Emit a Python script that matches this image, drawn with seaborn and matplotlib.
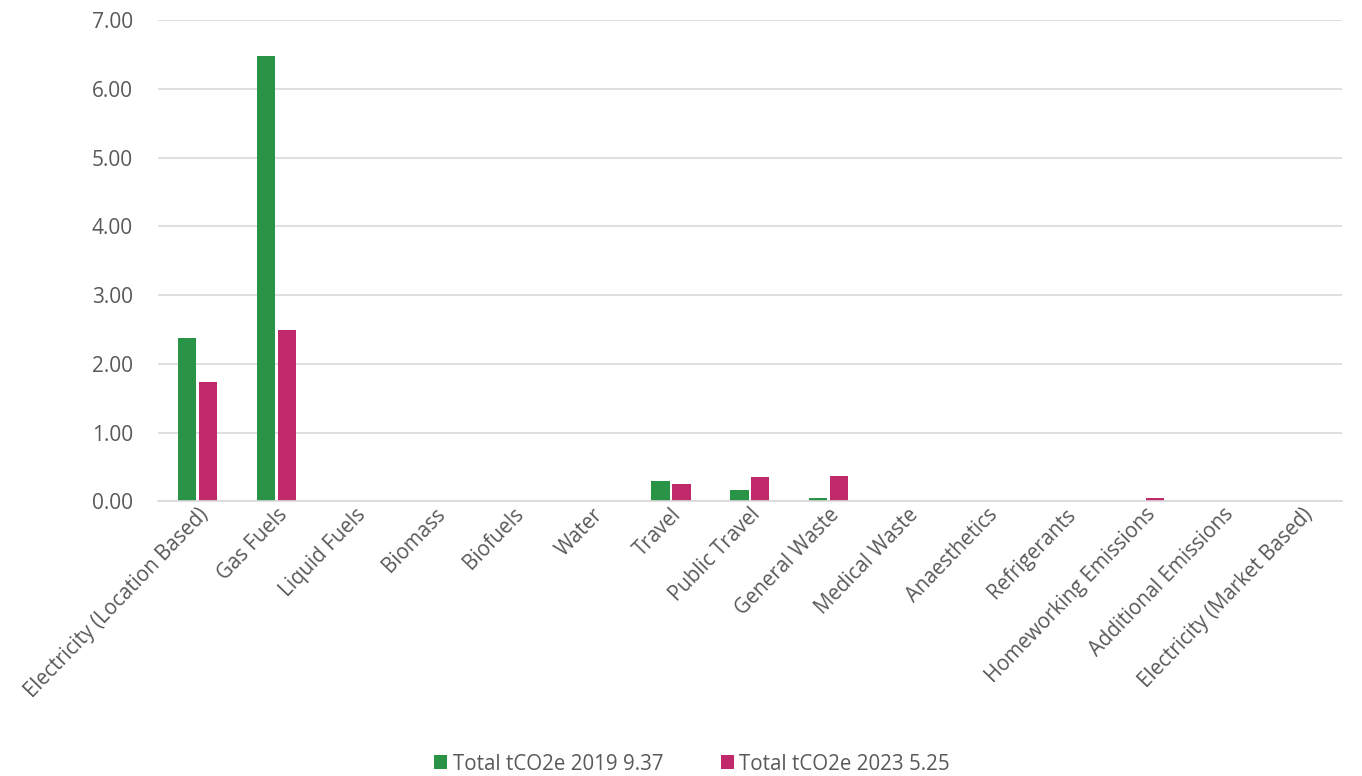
import matplotlib
matplotlib.use("Agg")
import matplotlib.pyplot as plt
import seaborn as sns
import pandas as pd

categories = [
    "Electricity (Location Based)", "Gas Fuels", "Liquid Fuels", "Biomass",
    "Biofuels", "Water", "Travel", "Public Travel", "General Waste",
    "Medical Waste", "Anaesthetics", "Refrigerants", "Homeworking Emissions",
    "Additional Emissions", "Electricity (Market Based)",
]
values_2019 = [2.37, 6.48, 0, 0, 0, 0, 0.30, 0.17, 0.05, 0, 0, 0, 0, 0, 0]
values_2023 = [1.73, 2.49, 0, 0, 0, 0, 0.25, 0.36, 0.37, 0, 0, 0, 0.05, 0, 0]
series_names = ["Total tCO2e 2019 9.37", "Total tCO2e 2023 5.25"]
colors = ["#2A9446", "#C0296A"]

df = pd.DataFrame({
    "category": categories * 2,
    "value": values_2019 + values_2023,
    "series": [series_names[0]] * len(categories) + [series_names[1]] * len(categories),
})

sns.set_theme(style="white")
plt.rcParams["font.family"] = ["Open Sans", "DejaVu Sans"]

fig = plt.figure(figsize=(13.62, 7.76), dpi=100)
ax = fig.add_axes([0.116, 0.354, 0.869, 0.62])

sns.barplot(data=df, x="category", y="value", hue="series", palette=colors,
            width=0.53, gap=0.12, ax=ax, saturation=1, legend=True,
            linewidth=0)

ax.set_ylim(0, 7)
ax.set_yticks(range(0, 8))
ax.set_yticklabels([f"{v:.2f}" for v in range(0, 8)], fontsize=15, color="#595959")
ax.yaxis.grid(True, color="#D9D9D9", linewidth=1.2)
ax.set_axisbelow(True)
ax.set_xlim(-0.5, len(categories) - 0.5)
ax.set_xlabel("")
ax.set_ylabel("")
ax.tick_params(axis="y", length=0, pad=18)
ax.tick_params(axis="x", length=0, pad=2)
plt.setp(ax.get_xticklabels(), rotation=46, ha="right", rotation_mode="anchor",
         fontsize=14.8, color="#595959")
for side in ["top", "right", "left"]:
    ax.spines[side].set_visible(False)
ax.spines["bottom"].set_color("#D9D9D9")
ax.spines["bottom"].set_linewidth(1.2)

handles, labels = ax.get_legend_handles_labels()
ax.legend_.remove()
leg = fig.legend(handles, labels, loc="lower center", bbox_to_anchor=(0.508, -0.022),
                 ncol=2, frameon=False, fontsize=14.8, handlelength=0.65,
                 handleheight=0.65, handletextpad=0.25, columnspacing=2.8)
for t in leg.get_texts():
    t.set_color("#595959")

fig.savefig("out.png", dpi=100)
